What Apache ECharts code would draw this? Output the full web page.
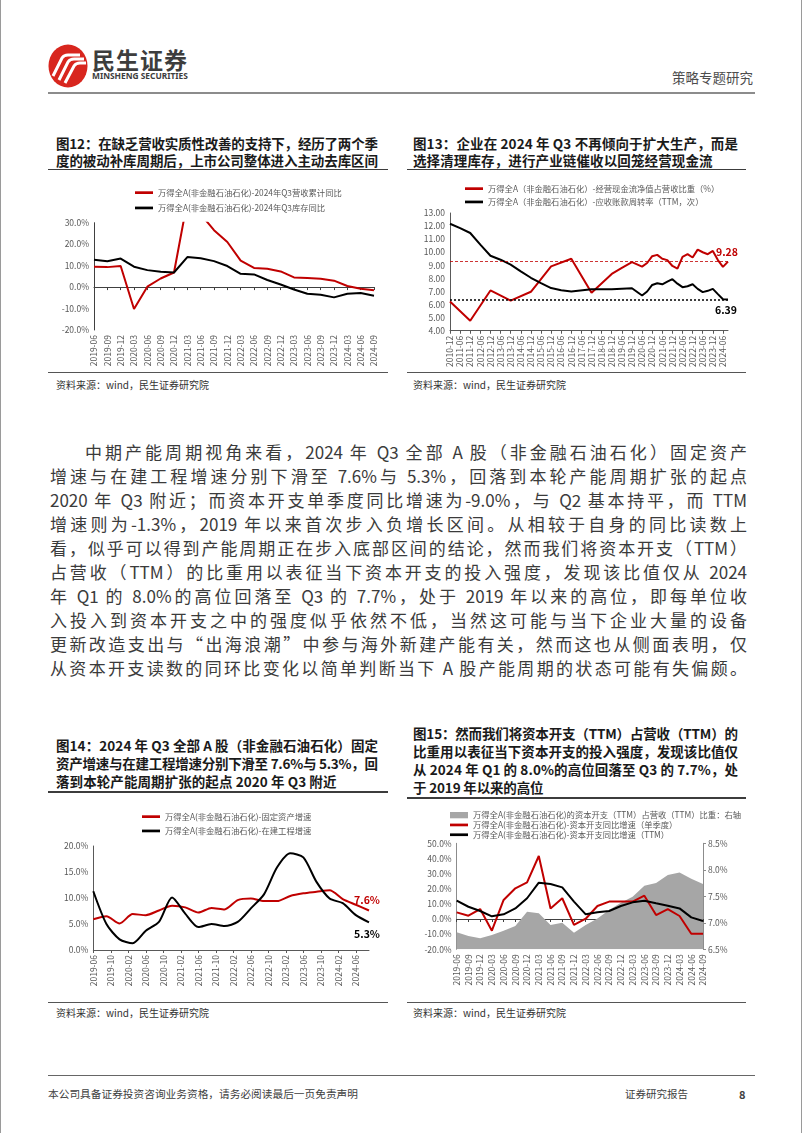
<!DOCTYPE html>
<html><head><meta charset="utf-8"><title>民生证券 策略专题研究</title>
<script src="https://cdn.jsdelivr.net/npm/echarts@6.0.0/dist/echarts.min.js"></script>
<style>
html,body{margin:0;padding:0;background:#fff;}
#page{position:relative;width:802px;height:1133px;overflow:hidden;background:#fff;font-family:"Noto Sans CJK SC","Noto Sans",sans-serif;}
.a{position:absolute;white-space:nowrap;}
.tt{position:absolute;white-space:nowrap;font-weight:700;font-size:13.5px;line-height:17px;height:17px;color:#1a1a1a;}
.pp{position:absolute;left:50px;width:697px;font-size:17px;line-height:24px;height:24px;color:#3b3b3b;text-align:justify;text-align-last:justify;}
.ln{position:absolute;background:#3c3c3c;}
.src{position:absolute;font-size:10px;color:#333;line-height:12px;white-space:nowrap;}
.ch{position:absolute;}
</style></head><body><div id="page">

<div class="ln" style="left:0;top:0;width:1px;height:1133px;background:#9a9a9a"></div>
<div class="ln" style="left:801px;top:0;width:1px;height:1133px;background:#9a9a9a"></div>

<!-- header -->
<svg class="a" style="left:47px;top:43px" width="44" height="46" viewBox="0 0 44 46">
  <ellipse cx="21" cy="23" rx="19.5" ry="21.5" fill="#D8261E"/>
  <path d="M6 33 L15 15 Q17 12 21 12 L33 12" stroke="#fff" stroke-width="3" fill="none"/>
  <path d="M12 37 L21 19 Q23 16 27 16 L37 16" stroke="#fff" stroke-width="3" fill="none"/>
  <path d="M18 40 L27 23 Q29 20 33 20 L39 20" stroke="#fff" stroke-width="3" fill="none"/>
</svg>
<div class="a" style="left:92px;top:46px;font-size:23px;font-weight:700;color:#3d3d3d;line-height:26px;letter-spacing:1px">民生证券</div>
<div class="a" style="left:92px;top:71px;font-family:'Noto Sans',sans-serif;font-size:8.4px;font-weight:700;color:#3d3d3d;line-height:10px">MINSHENG SECURITIES</div>
<div class="a" style="left:672px;top:69px;font-size:13.5px;color:#4d4d4d;line-height:16px">策略专题研究</div>
<div class="ln" style="left:48px;top:92px;width:707px;height:2px;background:#8c8c8c"></div>

<!-- chart 12 title -->
<div class="tt" data-fit="322" style="left:56px;top:134.5px">图12：在缺乏营收实质性改善的支持下，经历了两个季</div>
<div class="tt" data-fit="322" style="left:56px;top:151.5px">度的被动补库周期后，上市公司整体进入主动去库区间</div>
<div class="ln" style="left:48px;top:168.5px;width:340px;height:1.5px"></div>
<!-- chart 13 title -->
<div class="tt" data-fit="325" data-g="t13" style="left:413px;top:134.5px">图13：企业在 2024 年 Q3 不再倾向于扩大生产，而是</div>
<div class="tt" data-like="t13" style="left:413px;top:151.5px">选择清理库存，进行产业链催收以回笼经营现金流</div>
<div class="ln" style="left:407px;top:168.5px;width:339px;height:1.5px"></div>

<div id="c12" class="ch" style="left:40px;top:175px;width:360px;height:195px"></div>
<div id="c13" class="ch" style="left:405px;top:175px;width:360px;height:195px"></div>

<div class="ln" style="left:48px;top:372px;width:340px;height:1px;background:#555"></div>
<div class="ln" style="left:407px;top:372px;width:339px;height:1px;background:#555"></div>
<div class="src" style="left:56px;top:379px">资料来源：wind，民生证券研究院</div>
<div class="src" style="left:413px;top:379px">资料来源：wind，民生证券研究院</div>

<!-- paragraph -->
<div class="pp" style="left:85px;width:662px;top:440px">中期产能周期视角来看，2024 年 Q3 全部 A 股（非金融石油石化）固定资产</div>
<div class="pp" style="top:464px">增速与在建工程增速分别下滑至 7.6%与 5.3%，回落到本轮产能周期扩张的起点</div>
<div class="pp" style="top:488px">2020 年 Q3 附近；而资本开支单季度同比增速为-9.0%，与 Q2 基本持平，而 TTM</div>
<div class="pp" style="top:512px">增速则为-1.3%，2019 年以来首次步入负增长区间。从相较于自身的同比读数上</div>
<div class="pp" style="top:536px">看，似乎可以得到产能周期正在步入底部区间的结论，然而我们将资本开支（TTM）</div>
<div class="pp" style="top:560px">占营收（TTM）的比重用以表征当下资本开支的投入强度，发现该比值仅从 2024</div>
<div class="pp" style="top:584px">年 Q1 的 8.0%的高位回落至 Q3 的 7.7%，处于 2019 年以来的高位，即每单位收</div>
<div class="pp" style="top:608px">入投入到资本开支之中的强度似乎依然不低，当然这可能与当下企业大量的设备</div>
<div class="pp" style="top:632px">更新改造支出与“出海浪潮”中参与海外新建产能有关，然而这也从侧面表明，仅</div>
<div class="pp" style="top:656px">从资本开支读数的同环比变化以简单判断当下 A 股产能周期的状态可能有失偏颇。</div>

<!-- chart 14 title -->
<div class="tt" data-fit="322" data-g="t14" style="left:56px;top:736.5px">图14：2024 年 Q3 全部 A 股（非金融石油石化）固定</div>
<div class="tt" data-fit="322" style="left:56px;top:754.5px">资产增速与在建工程增速分别下滑至 7.6%与 5.3%，回</div>
<div class="tt" data-like="t14" style="left:56px;top:772.5px">落到本轮产能周期扩张的起点 2020 年 Q3 附近</div>
<div class="ln" style="left:48px;top:791px;width:340px;height:1.5px"></div>
<!-- chart 15 title -->
<div class="tt" data-fit="325" data-g="t15" style="left:413px;top:724.5px">图15：然而我们将资本开支（TTM）占营收（TTM）的</div>
<div class="tt" data-fit="325" style="left:413px;top:742.5px">比重用以表征当下资本开支的投入强度，发现该比值仅</div>
<div class="tt" data-fit="325" style="left:413px;top:760.5px">从 2024 年 Q1 的 8.0%的高位回落至 Q3 的 7.7%，处</div>
<div class="tt" data-like="t15" style="left:413px;top:778.5px">于 2019 年以来的高位</div>
<div class="ln" style="left:407px;top:797px;width:339px;height:1.5px"></div>

<div id="c14" class="ch" style="left:40px;top:800px;width:360px;height:200px"></div>
<div id="c15" class="ch" style="left:405px;top:800px;width:360px;height:200px"></div>

<div class="ln" style="left:48px;top:1001.5px;width:340px;height:1px;background:#555"></div>
<div class="ln" style="left:407px;top:1001.5px;width:339px;height:1px;background:#555"></div>
<div class="src" style="left:56px;top:1007px">资料来源：wind，民生证券研究院</div>
<div class="src" style="left:413px;top:1007px">资料来源：wind，民生证券研究院</div>

<!-- footer -->
<div class="ln" style="left:48px;top:1075px;width:707px;height:1px;background:#666"></div>
<div class="a" style="left:48px;top:1087px;font-size:10.7px;color:#404040;line-height:14px">本公司具备证券投资咨询业务资格，请务必阅读最后一页免责声明</div>
<div class="a" style="left:625px;top:1087px;font-size:10.5px;color:#404040;line-height:14px">证券研究报告</div>
<div class="a" style="left:739px;top:1087px;font-size:11px;font-weight:700;color:#404040;line-height:14px">8</div>

</div>
<script>
// ---------------- data ----------------
// Figure 12 (quarterly, %)
const cat12 = ['2019-06','2019-09','2019-12','2020-03','2020-06','2020-09','2020-12','2021-03','2021-06','2021-09','2021-12','2022-03','2022-06','2022-09','2022-12','2023-03','2023-06','2023-09','2023-12','2024-03','2024-06','2024-09'];
const revenueYoY12 = [9.5,9.3,9.8,-10.2,0.2,4.0,6.8,40.0,34.0,26.5,21.0,12.3,8.9,8.5,7.3,4.5,4.2,3.9,3.0,0.5,-0.8,-1.5];
const inventoryYoY12 = [12.7,12.0,13.3,9.5,7.9,7.1,6.8,14.0,13.4,12.1,9.8,6.2,5.9,3.3,1.2,-1.1,-3.1,-3.6,-4.8,-3.1,-2.8,-4.0];
const yTicks12 = [-20, 30, 10];

// Figure 13 (quarter axis, labels every half year; null = no reading)
const cat13 = ['2010-12','2011-03','2011-06','2011-09','2011-12','2012-03','2012-06','2012-09','2012-12','2013-03','2013-06','2013-09','2013-12','2014-03','2014-06','2014-09','2014-12','2015-03','2015-06','2015-09','2015-12','2016-03','2016-06','2016-09','2016-12','2017-03','2017-06','2017-09','2017-12','2018-03','2018-06','2018-09','2018-12','2019-03','2019-06','2019-09','2019-12','2020-03','2020-06','2020-09','2020-12','2021-03','2021-06','2021-09','2021-12','2022-03','2022-06','2022-09','2022-12','2023-03','2023-06','2023-09','2023-12','2024-03','2024-06','2024-09'];
const cashRatio13 = [6.24,null,null,null,4.76,null,null,null,7.08,null,null,null,6.30,null,null,null,6.98,null,null,null,8.92,null,null,null,9.50,null,null,null,6.90,null,null,null,8.34,null,8.80,null,9.24,null,8.90,9.18,9.70,9.80,9.50,9.40,8.95,8.75,9.64,9.85,9.60,10.20,10.00,9.85,10.10,9.40,8.88,9.28];
const arTurnover13 = [12.18,null,11.85,null,11.47,null,10.58,null,9.73,null,9.43,null,9.05,null,8.54,null,8.05,null,7.64,null,7.26,null,7.10,null,7.00,null,null,null,7.18,null,null,null,7.18,null,null,null,7.25,null,6.69,7.00,7.50,7.63,7.55,7.75,7.94,7.60,7.33,7.40,7.55,7.20,6.95,7.05,7.20,6.80,6.41,6.39];
const refLines13 = [9.28, 6.39];

// Figure 14 (quarterly readings on a monthly axis)
const q14 = ['2019-06','2019-09','2019-12','2020-03','2020-06','2020-09','2020-12','2021-03','2021-06','2021-09','2021-12','2022-03','2022-06','2022-09','2022-12','2023-03','2023-06','2023-09','2023-12','2024-03','2024-06','2024-09'];
const fixedAsset14 = [5.9,6.5,5.1,6.9,6.7,7.6,8.5,8.2,7.2,8.1,7.8,9.6,9.9,9.4,9.4,10.4,10.9,11.2,11.5,9.8,8.7,7.6];
const constructionInProgress14 = [11.3,5.0,2.05,1.3,3.7,5.4,10.1,7.0,4.4,5.0,4.6,5.4,8.0,10.7,15.9,18.6,17.8,13.1,9.9,9.0,6.7,5.3];
const monthStart14 = '2019-06', monthEnd14 = '2024-09';

// Figure 15 (quarterly)
const cat15 = ['2019-06','2019-09','2019-12','2020-03','2020-06','2020-09','2020-12','2021-03','2021-06','2021-09','2021-12','2022-03','2022-06','2022-09','2022-12','2023-03','2023-06','2023-09','2023-12','2024-03','2024-06','2024-09'];
const capexToRevenue15 = [6.82,6.75,6.71,6.77,6.85,6.94,7.21,7.18,6.96,7.00,6.81,6.96,7.08,7.24,7.38,7.49,7.70,7.75,7.90,7.95,7.83,7.73];
const capexYoYQuarter15 = [4.4,2.2,6.6,-7.7,12.6,20.3,24.2,41.6,7.0,13.7,-3.9,0.2,8.6,11.5,11.5,11.5,15.4,2.6,6.6,2.0,-9.7,-9.7];
const capexYoYTTM15 = [12.1,8.1,5.3,1.8,3.1,7.0,13.7,24.0,23.1,20.9,11.5,3.1,4.4,5.3,8.6,11.0,12.1,10.4,8.8,7.0,1.1,-1.3];

// ---------------- title fitting (letter-spacing so each title line spans its column) ----------------
const groupLS = {};
document.querySelectorAll('[data-fit]').forEach(el => {
  el.style.letterSpacing = '0px';
  const w = el.getBoundingClientRect().width;
  const n = [...el.textContent].length;
  const ls = (+el.dataset.fit - w) / (n - 1);
  el.style.letterSpacing = ls + 'px';
  if (el.dataset.g) groupLS[el.dataset.g] = ls;
});
document.querySelectorAll('[data-like]').forEach(el => {
  const ls = groupLS[el.dataset.like];
  if (ls != null) el.style.letterSpacing = ls + 'px';
});

// ---------------- helpers ----------------
const FONT = '"Noto Sans CJK SC","Noto Sans",sans-serif';
const RED = '#C00000', BLACK = '#000000', GRID_C = '#595959', LBL = '#595959';
const LINE_ICON = 'path://M0,0H20V3H0Z';
const RECT_ICON = 'path://M0,0H20V7H0Z';

function monthRange(a, b) {
  const out = [];
  let y = +a.slice(0,4), m = +a.slice(5,7);
  const ey = +b.slice(0,4), em = +b.slice(5,7);
  while (y < ey || (y === ey && m <= em)) {
    out.push(y + '-' + String(m).padStart(2,'0'));
    m++; if (m > 12) { m = 1; y++; }
  }
  return out;
}
function withEndLabel(arr, label) {
  return arr.map((v, i) => i === arr.length - 1 ? { value: v, label: Object.assign({ show: true }, label) } : v);
}
function legend(left, top, gap, items) {
  return { orient: 'vertical', left: left, top: top, itemGap: gap, itemWidth: 18, itemHeight: 8,
    textStyle: { fontSize: 8.3, color: LBL, fontFamily: FONT }, data: items, selectedMode: false };
}
function catLabels(data, interval) {
  return { type: 'category', data: data, boundaryGap: false, position: 'bottom',
    axisLine: { show: false, onZero: false }, axisTick: { show: false },
    axisLabel: { rotate: 90, fontSize: 8.5, color: LBL, interval: interval, margin: 5, fontFamily: FONT } };
}
function catZeroLine(data, interval) {
  return { type: 'category', data: data, boundaryGap: false, position: 'bottom',
    axisLine: { show: true, onZero: true, lineStyle: { color: '#404040', width: 1 } },
    axisTick: { show: true, length: 3, interval: interval, lineStyle: { color: '#404040' } },
    axisLabel: { show: false } };
}
function lineSeries(name, data, color, extra) {
  return Object.assign({ name: name, type: 'line', data: data, showSymbol: true, showAllSymbol: true,
    symbol: 'circle', symbolSize: 0, lineStyle: { color: color, width: 2 }, itemStyle: { color: color },
    connectNulls: true, silent: true, z: 3 }, extra || {});
}

// ---------------- Figure 12 ----------------
const n12a = '万得全A(非金融石油石化)-2024年Q3营收累计同比';
const n12b = '万得全A(非金融石油石化)-2024年Q3库存同比';
echarts.init(document.getElementById('c12')).setOption({
  animation: false, textStyle: { fontFamily: FONT },
  legend: legend(90, 8.5, 7, [{ name: n12a, icon: LINE_ICON }, { name: n12b, icon: LINE_ICON }]),
  grid: { left: 54, right: 26, top: 47.7, bottom: 40 },
  xAxis: [catZeroLine(cat12, 0), catLabels(cat12, 0)],
  yAxis: { type: 'value', min: yTicks12[0], max: yTicks12[1], interval: yTicks12[2],
    axisLine: { show: true, lineStyle: { color: '#404040' } }, axisTick: { show: false }, splitLine: { show: false },
    axisLabel: { formatter: v => v.toFixed(1) + '%', fontSize: 8.5, color: LBL, margin: 5 } },
  series: [
    lineSeries(n12a, revenueYoY12, RED, { clip: true }),
    lineSeries(n12b, inventoryYoY12, BLACK, { clip: true })
  ]
});

// ---------------- Figure 13 ----------------
const n13a = '万得全A（非金融石油石化）-经营现金流净值占营收比重（%）';
const n13b = '万得全A（非金融石油石化）-应收账款周转率（TTM，次）';
echarts.init(document.getElementById('c13')).setOption({
  animation: false, textStyle: { fontFamily: FONT },
  legend: legend(55, 4.5, 5, [{ name: n13a, icon: LINE_ICON }, { name: n13b, icon: LINE_ICON }]),
  grid: { left: 45, right: 37, top: 38, bottom: 39 },
  xAxis: { type: 'category', data: cat13, boundaryGap: false,
    axisLine: { show: true, lineStyle: { color: GRID_C } },
    axisTick: { show: true, length: 3, interval: 1, lineStyle: { color: GRID_C } },
    axisLabel: { rotate: 90, fontSize: 8.5, color: LBL, interval: 1, margin: 5 } },
  yAxis: { type: 'value', min: 4, max: 13, interval: 1,
    axisLine: { show: true, lineStyle: { color: GRID_C } }, axisTick: { show: false }, splitLine: { show: false },
    axisLabel: { formatter: v => v.toFixed(2), fontSize: 8.5, color: LBL, margin: 5 } },
  series: [
    lineSeries(n13a, withEndLabel(cashRatio13, { position: 'top', distance: 4, offset: [-1, 0],
      formatter: p => p.value.toFixed(2), color: RED, fontWeight: 'bold', fontSize: 10.5 }), RED, {
      markLine: { silent: true, symbol: 'none', label: { show: false },
        lineStyle: { color: RED, type: [3, 2], width: 0.8 }, data: [{ yAxis: refLines13[0] }] } }),
    lineSeries(n13b, withEndLabel(arTurnover13, { position: 'bottom', distance: 5, offset: [-2, 0],
      formatter: p => p.value.toFixed(2), color: BLACK, fontWeight: 'bold', fontSize: 10.5 }), BLACK, {
      markLine: { silent: true, symbol: 'none', label: { show: false },
        lineStyle: { color: BLACK, type: [2, 2], width: 1.5 }, data: [{ yAxis: refLines13[1] }] } })
  ]
});

// ---------------- Figure 14 ----------------
const months14 = monthRange(monthStart14, monthEnd14);
function onMonths(vals) { return months14.map(m => { const i = q14.indexOf(m); return i >= 0 ? vals[i] : null; }); }
const n14a = '万得全A(非金融石油石化)-固定资产增速';
const n14b = '万得全A(非金融石油石化)-在建工程增速';
echarts.init(document.getElementById('c14')).setOption({
  animation: false, textStyle: { fontFamily: FONT },
  legend: legend(97, 7.5, 6, [{ name: n14a, icon: LINE_ICON }, { name: n14b, icon: LINE_ICON }]),
  grid: { left: 53.3, right: 31, top: 46, bottom: 50 },
  xAxis: { type: 'category', data: months14, boundaryGap: false,
    axisLine: { show: true, lineStyle: { color: GRID_C } },
    axisTick: { show: true, length: 3, interval: 3, lineStyle: { color: GRID_C } },
    axisLabel: { rotate: 90, fontSize: 8.5, color: LBL, interval: 3, margin: 5 } },
  yAxis: { type: 'value', min: 0, max: 20, interval: 5,
    axisLine: { show: true, lineStyle: { color: GRID_C } }, axisTick: { show: false }, splitLine: { show: false },
    axisLabel: { formatter: v => v.toFixed(1) + '%', fontSize: 8.5, color: LBL, margin: 5 } },
  series: [
    lineSeries(n14a, withEndLabel(onMonths(fixedAsset14), { position: 'top', distance: 5, offset: [-2, 0],
      formatter: p => p.value.toFixed(1) + '%', color: RED, fontWeight: 'bold', fontSize: 10.5 }), RED, { smooth: 0.25 }),
    lineSeries(n14b, withEndLabel(onMonths(constructionInProgress14), { position: 'bottom', distance: 6, offset: [-2, 0],
      formatter: p => p.value.toFixed(1) + '%', color: BLACK, fontWeight: 'bold', fontSize: 10.5 }), BLACK, { smooth: 0.25 })
  ]
});

// ---------------- Figure 15 ----------------
const n15a = '万得全A(非金融石油石化)的资本开支（TTM）占营收（TTM）比重：右轴';
const n15b = '万得全A(非金融石油石化)-资本开支同比增速（单季度）';
const n15c = '万得全A(非金融石油石化)-资本开支同比增速（TTM）';
echarts.init(document.getElementById('c15')).setOption({
  animation: false, textStyle: { fontFamily: FONT },
  legend: legend(40, 6, 1.5, [{ name: n15a, icon: RECT_ICON, itemStyle: { color: '#A6A6A6' } },
    { name: n15b, icon: LINE_ICON }, { name: n15c, icon: LINE_ICON }]),
  grid: { left: 51.7, right: 62, top: 43.3, bottom: 50.7 },
  xAxis: [catZeroLine(cat15, 0), catLabels(cat15, 0)],
  yAxis: [
    { type: 'value', min: -20, max: 50, interval: 10,
      axisLine: { show: true, lineStyle: { color: '#8c8c8c' } }, axisTick: { show: false }, splitLine: { show: false },
      axisLabel: { formatter: v => v.toFixed(1) + '%', fontSize: 8.5, color: LBL, margin: 5 } },
    { type: 'value', min: 6.5, max: 8.5, interval: 0.5, position: 'right',
      axisLine: { show: true, lineStyle: { color: '#8c8c8c' } },
      axisTick: { show: true, length: 3, lineStyle: { color: '#8c8c8c' } }, splitLine: { show: false },
      axisLabel: { formatter: v => v.toFixed(1) + '%', fontSize: 8.5, color: LBL, margin: 5 } }
  ],
  series: [
    { name: n15a, type: 'line', yAxisIndex: 1, data: capexToRevenue15, showSymbol: false, silent: true,
      lineStyle: { width: 0 }, itemStyle: { color: '#A6A6A6' },
      areaStyle: { color: '#A6A6A6', opacity: 1, origin: 'start' }, z: 1 },
    lineSeries(n15b, capexYoYQuarter15, RED),
    lineSeries(n15c, capexYoYTTM15, BLACK)
  ]
});
</script>
</body></html>
